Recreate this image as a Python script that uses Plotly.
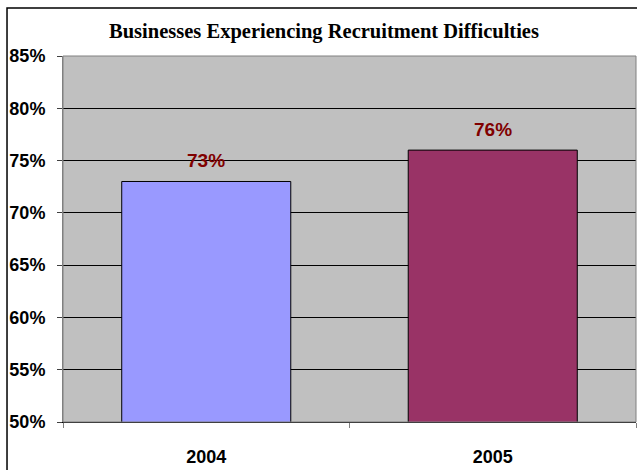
import plotly.graph_objects as go

# Share of businesses reporting recruitment difficulties, by year
years = ["2004", "2005"]
shares = [73, 76]
bar_colors = ["#9999FF", "#993366"]
y_ticks = [50, 55, 60, 65, 70, 75, 80, 85]

fig = go.Figure()
fig.add_trace(go.Bar(
    x=years,
    y=shares,
    marker=dict(color=bar_colors, line=dict(color="black", width=1)),
    width=0.59,
    hoverinfo="skip",
))

# value labels sitting above each bar (category index as x position)
for i, v in enumerate(shares):
    fig.add_annotation(
        x=i, y=v, text=f"{v}%", showarrow=False,
        yanchor="bottom", yshift=8,
        font=dict(family="Liberation Sans", size=19, color="#800000", weight="bold"),
    )

# outer chart frame
fig.add_shape(
    type="rect", xref="paper", yref="paper",
    x0=-0.0977, x1=1.05, y0=-0.2, y1=1.131,
    line=dict(color="black", width=1.5), fillcolor="rgba(0,0,0,0)", layer="below",
)

fig.update_layout(
    width=637, height=470,
    margin=dict(l=63, r=1, t=56, b=48),
    paper_bgcolor="white",
    plot_bgcolor="#C0C0C0",
    showlegend=False,
    title=dict(
        text="Businesses Experiencing Recruitment Difficulties",
        x=(324 / 637), xanchor="center", y=1 - 31 / 470, yanchor="middle",
        font=dict(family="Liberation Serif", size=20.5, color="black", weight="bold"),
    ),
    xaxis=dict(
        type="category", range=[-0.5, 1.5],
        tickson="boundaries", ticks="outside", ticklen=5, tickcolor="#808080",
        tickfont=dict(family="Liberation Sans", size=18, color="black", weight="bold"),
        ticklabelstandoff=18,
        showline=True, linecolor="black", linewidth=1,
        showgrid=False,
    ),
    yaxis=dict(
        range=[50, 85], tickvals=y_ticks, ticktext=[f"{t}%" for t in y_ticks],
        ticks="outside", ticklen=5, tickcolor="#404040",
        tickfont=dict(family="Liberation Sans", size=18, color="black", weight="bold"),
        ticklabelstandoff=8,
        showgrid=True, gridcolor="black", gridwidth=1,
        showline=True, linecolor="#808080", linewidth=1,
        zeroline=False,
    ),
)

# plot-area border on the top and right
fig.add_shape(
    type="rect", xref="paper", yref="paper", x0=0, x1=1, y0=0, y1=1,
    line=dict(color="#808080", width=1), fillcolor="rgba(0,0,0,0)", layer="above",
)

fig.write_html("out.html")
